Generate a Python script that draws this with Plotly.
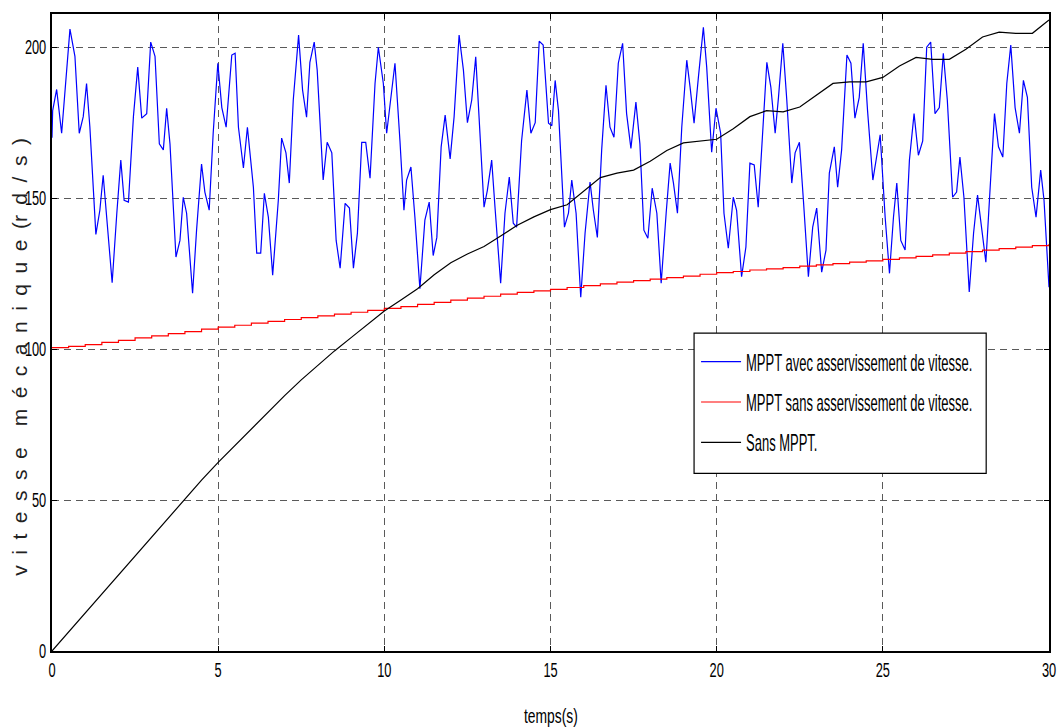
import plotly.graph_objects as go

# ---------------- data ----------------
t_blue = [0, 0.02, 0.14, 0.29, 0.54, 0.69, 0.82, 0.94, 1.04, 1.14,
          1.32, 1.44, 1.54, 1.65, 1.81, 1.95, 2.07, 2.17, 2.30, 2.45,
          2.58, 2.70, 2.85, 2.97, 3.10, 3.23, 3.35, 3.45, 3.55, 3.73,
          3.85, 3.95, 4.05, 4.23, 4.35, 4.50, 4.60, 4.73, 4.85, 4.99,
          5.11, 5.24, 5.41, 5.51, 5.61, 5.76, 5.88, 6.06, 6.16, 6.28,
          6.39, 6.51, 6.64, 6.81, 6.91, 7.04, 7.14, 7.26, 7.42, 7.54,
          7.66, 7.76, 7.89, 7.98, 8.16, 8.28, 8.42, 8.55, 8.67, 8.82,
          8.95, 9.07, 9.19, 9.32, 9.44, 9.57, 9.72, 9.82, 9.97, 10.07,
          10.19, 10.32, 10.47, 10.59, 10.67, 10.80, 10.92, 11.07, 11.22, 11.35,
          11.47, 11.58, 11.71, 11.83, 11.98, 12.10, 12.25, 12.38, 12.50, 12.63,
          12.75, 12.88, 13.00, 13.10, 13.23, 13.33, 13.50, 13.63, 13.76, 13.88,
          13.98, 14.13, 14.29, 14.41, 14.54, 14.66, 14.78, 14.94, 15.04, 15.14,
          15.24, 15.42, 15.54, 15.64, 15.77, 15.91, 16.04, 16.19, 16.29, 16.41,
          16.54, 16.67, 16.79, 16.91, 17.04, 17.17, 17.29, 17.42, 17.57, 17.69,
          17.81, 17.93, 18.06, 18.20, 18.33, 18.48, 18.60, 18.70, 18.82, 18.95,
          19.10, 19.20, 19.32, 19.45, 19.60, 19.70, 19.85, 19.98, 20.12, 20.22,
          20.35, 20.50, 20.60, 20.75, 20.88, 21.00, 21.13, 21.25, 21.39, 21.51,
          21.63, 21.76, 21.86, 21.99, 22.11, 22.26, 22.36, 22.49, 22.61, 22.76,
          22.89, 23.01, 23.16, 23.29, 23.39, 23.54, 23.64, 23.76, 23.92, 24.04,
          24.16, 24.29, 24.41, 24.54, 24.70, 24.82, 24.92, 25.07, 25.20, 25.32,
          25.42, 25.54, 25.67, 25.80, 25.94, 26.07, 26.20, 26.32, 26.44, 26.57,
          26.70, 26.82, 26.94, 27.10, 27.22, 27.32, 27.44, 27.60, 27.73, 27.85,
          27.98, 28.10, 28.23, 28.36, 28.48, 28.61, 28.73, 28.85, 28.98, 29.11,
          29.23, 29.35, 29.48, 29.61, 29.75, 29.85, 30.00]
v_blue = [170, 179, 186, 171.5, 206, 197, 171.5, 177, 188, 173.5,
          138, 146, 157.6, 143.7, 122, 145, 162.6, 149.3, 148.7, 177,
          193.4, 176.5, 178, 201.7, 197, 168, 166, 179.8, 168, 130.5,
          136, 150.3, 145, 118.5, 139.4, 161.3, 152, 146, 171.5, 194.7,
          180, 173.5, 197.4, 198, 173.5, 160, 173.5, 153.6, 131.8, 131.8,
          151.6, 143.7, 124.5, 149.3, 169.9, 165, 155, 182.5, 204, 185.8,
          176.8, 195, 201.7, 192.4, 156, 168.5, 165, 136, 126.8, 148.3,
          146.7, 126.8, 138.4, 168.5, 168.5, 156.6, 188, 200, 188, 171.5,
          183.4, 194.7, 169, 146, 156, 160.3, 143.7, 120, 142.7, 148.7,
          131, 137, 167, 177.5, 163, 177, 204, 192.4, 175, 182.5,
          196.8, 171.5, 147, 152.6, 162.6, 147, 121.8, 145, 157, 141.7,
          140.4, 169, 185.8, 171.5, 175, 202, 200.7, 174.8, 174, 189,
          179, 140.4, 145, 156, 145, 117.2, 138.4, 155.3, 146, 137,
          166, 187.4, 173.5, 170.2, 194.7, 201.3, 178, 166.5, 181.8, 168,
          139.4, 136.7, 153.3, 145, 121.8, 145, 161.6, 155, 145, 173.5,
          195.7, 186.8, 174.8, 190, 206.6, 193.4, 165.2, 179.8, 171.5, 145,
          133.4, 150.3, 146, 124, 133.8, 161.6, 161, 147, 171.5, 195,
          186.8, 171.5, 183.4, 201.3, 182.5, 155, 165, 168.5, 149.3, 124,
          140.4, 146.7, 125.5, 132.8, 158.3, 167, 153.6, 166, 197.4, 194.7,
          176.5, 183.4, 201.3, 179, 156, 164, 171, 143.7, 125.1, 143.7,
          155, 136, 132.8, 162.6, 178, 164.2, 169, 200, 201.7, 178,
          180, 198, 182.5, 150.3, 152, 163.6, 150.3, 118.9, 138.4, 151,
          138.4, 128.8, 153.6, 178, 167, 163.6, 188, 200.7, 180, 171.5,
          189, 183.4, 153.6, 143.7, 159.3, 149.3, 120.5]

t_half = [0, 0.5, 1, 1.5, 2, 2.5, 3, 3.5, 4, 4.5, 5, 5.5, 6, 6.5, 7, 7.5,
          8, 8.5, 9, 9.5, 10, 10.5, 11, 11.5, 12, 12.5, 13, 13.5, 14, 14.5,
          15, 15.5, 16, 16.5, 17, 17.5, 18, 18.5, 19, 19.5, 20, 20.5, 21,
          21.5, 22, 22.5, 23, 23.5, 24, 24.5, 25, 25.5, 26, 26.5, 27, 27.5,
          28, 28.5, 29, 29.5, 30]
v_red = [100.5, 100.9, 101.5, 102.2, 102.9, 103.7, 104.4, 105.1, 105.8, 106.6,
         107.3, 107.9, 108.6, 109.2, 109.8, 110.4, 111.0, 111.6, 112.2, 112.8,
         113.5, 114.1, 114.8, 115.5, 116.2, 116.9, 117.5, 118.2, 118.8, 119.3,
         119.8, 120.4, 121.0, 121.6, 122.2, 122.7, 123.2, 123.7, 124.2, 124.8,
         125.3, 125.7, 126.2, 126.6, 127.0, 127.5, 127.9, 128.3, 128.8, 129.2,
         129.7, 130.2, 130.7, 131.2, 131.8, 132.3, 132.8, 133.3, 133.8, 134.3,
         134.8]
v_black = [0, 6.3, 12.6, 18.9, 25.2, 31.5, 37.8, 44.1, 50.6, 56.6,
           62.5, 68.1, 73.7, 79.2, 84.6, 89.8, 94.7, 99.4, 103.8, 108.2,
           112.6, 116.3, 120.0, 124.6, 128.6, 131.5, 134.0, 137.5, 141.0, 143.8,
           146.2, 147.8, 152.2, 156.8, 158.3, 159.3, 162.2, 165.8, 168.3, 168.9,
           169.5, 173.0, 177.0, 179.0, 178.6, 180.2, 184.0, 188.0, 188.5, 188.5,
           190.0, 193.8, 196.6, 196.0, 196.0, 199.3, 203.4, 205.0, 204.6, 204.6,
           209.0]

x_ticks = [0, 5, 10, 15, 20, 25, 30]
y_ticks = [0, 50, 100, 150, 200]
names = ["MPPT avec asservissement de vitesse.",
         "MPPT sans asservissement de vitesse.",
         "Sans MPPT."]
x_title = "temps(s)"
y_title = "\u2002".join("vitesse") + "\u2002\u2002" + "\u2002".join("mécanique") + "\u2002(" + "\u2002".join("rd/s") + "\u2002)"

FONT = "Liberation Sans, Arial, sans-serif"

fig = go.Figure()
fig.add_trace(go.Scatter(x=t_blue, y=v_blue, mode="lines", name=names[0],
                         legendgroup="a", line=dict(color="#0000ff", width=1.2)))
fig.add_trace(go.Scatter(x=t_half, y=v_red, mode="lines", name=names[1],
                         legendgroup="b", line=dict(color="#ff0000", width=1.2, shape="hv")))
fig.add_trace(go.Scatter(x=t_half, y=v_black, mode="lines", name=names[2],
                         legendgroup="c", line=dict(color="#000000", width=1.2)))

axis_common = dict(
    showline=True, linecolor="black", linewidth=1.5, mirror="ticks",
    ticks="inside", ticklen=5, tickcolor="black", automargin=False,
    showgrid=True, gridcolor="#5a5a5a", gridwidth=1, griddash="7px,5px",
    zeroline=False, tickfont=dict(family=FONT, size=20, color="black"),
)

fig.update_layout(
    width=1062, height=728,
    margin=dict(l=52, r=13, t=14, b=77, autoexpand=False),
    paper_bgcolor="white", plot_bgcolor="white",
    xaxis=dict(range=[0, 30], tickvals=x_ticks, **axis_common),
    yaxis=dict(range=[0, 211], tickvals=y_ticks, **axis_common),
    showlegend=True,
    legend=dict(x=0.646, y=0.488, xanchor="left", yanchor="top",
                bgcolor="rgba(0,0,0,0)", borderwidth=0,
                font=dict(family=FONT, size=23, color="black"),
                tracegroupgap=7.5, itemwidth=40),
    shapes=[
        dict(type="rect", xref="paper", yref="paper",
             x0=0.644, x1=0.937, y0=0.279, y1=0.499,
             fillcolor="white", line=dict(color="black", width=1.2), layer="above"),
    ],
    annotations=[
        dict(text=x_title, xref="paper", yref="paper", x=0.5, y=-0.102,
             xanchor="center", yanchor="middle", showarrow=False,
             font=dict(family=FONT, size=21, color="black")),
        dict(text=y_title, xref="paper", yref="paper", x=0, y=0.462,
             xshift=-32, xanchor="center", yanchor="middle", textangle=-90,
             showarrow=False, font=dict(family=FONT, size=21, color="#222222")),
    ],
)

# the reference's lettering is tall and narrow: squeeze text horizontally
post_js = """
var gd = document.getElementById('{plot_id}');
function squeezeEl(t, s) {
  var x = parseFloat(t.getAttribute('x')) || 0;
  var tr = t.getAttribute('transform') || '';
  t.setAttribute('transform', tr + ' translate(' + x + ',0) scale(' + s + ',1) translate(' + (-x) + ',0)');
}
function squeeze(sel, s) {
  gd.querySelectorAll(sel).forEach(function (t) { squeezeEl(t, s); });
}
squeeze('.xtick text', 0.64);
squeeze('.ytick text', 0.64);
squeeze('.legendtext', 0.565);
var ann = gd.querySelectorAll('.annotation-text');
if (ann.length) { squeezeEl(ann[0], 0.66); }
"""

fig.write_html("out.html", post_script=post_js)
